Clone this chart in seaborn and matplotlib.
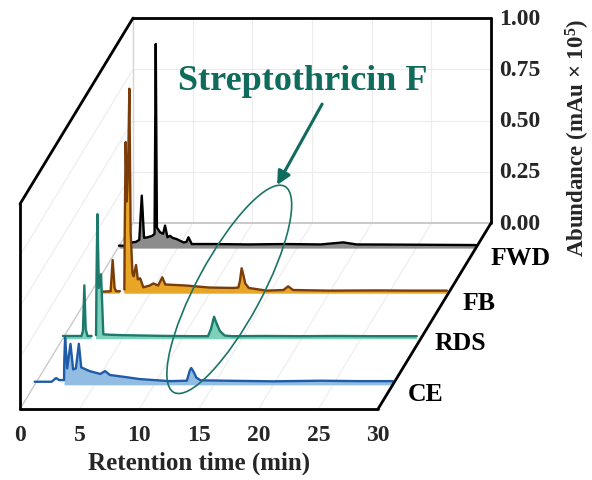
import numpy as np
import pandas as pd
import matplotlib
matplotlib.use("Agg")
import matplotlib.pyplot as plt
import matplotlib.transforms as mtransforms
from matplotlib.patches import Ellipse, ConnectionPatch
import seaborn as sns

# ---------------- data ----------------
samples = ["CE", "RDS", "FB", "FWD"]
depths = [0.13, 0.375, 0.62, 0.865]          # position of each trace along the depth axis
line_colors = ["#1f5ca8", "#1b7a6b", "#7a3d0a", "#000000"]
fill_colors = ["#93bce3", "#7fd0bb", "#e7a626", "#8c8c8c"]
fill_from = [2.46, 0.0, 0.0, 0.0]

ce_time = [0.0, 1.42, 1.79, 2.06, 2.35, 2.46, 2.48, 2.55, 2.72, 3.0, 3.22, 3.45, 3.7, 3.9,
           4.6, 5.5, 5.9, 6.3, 7.6, 8.8, 11.3, 12.75, 13.0, 13.12, 13.3, 13.55, 13.9,
           16.0, 20.0, 24.0, 27.0, 30.0]
ce_abund = [0.015, 0.015, 0.033, 0.023, 0.023, 0.023, 0.12, 0.23, 0.08, 0.20, 0.075, 0.08, 0.20, 0.085,
            0.067, 0.053, 0.067, 0.048, 0.038, 0.028, 0.018, 0.02, 0.07, 0.082, 0.065, 0.035, 0.022,
            0.02, 0.017, 0.02, 0.018, 0.018]

rds_time = [0.05, 1.6, 1.72, 1.84, 1.95, 2.1, 2.45, np.nan, 2.82, 2.86, 2.93, 3.06, 3.24, 3.43,
            4.0, 5.0, 7.0, 9.0, 11.0, 12.2, 12.45, 12.71, 12.9, 13.2, 13.6, 14.2,
            17.0, 20.0, 23.0, 26.0, 29.7]
rds_abund = [0.016, 0.016, 0.04, 0.263, 0.05, 0.016, 0.016, np.nan, 0.02, 0.30, 0.61, 0.25, 0.317, 0.024,
             0.022, 0.02, 0.018, 0.016, 0.015, 0.015, 0.05, 0.11, 0.08, 0.04, 0.018, 0.015,
             0.016, 0.015, 0.016, 0.015, 0.015]

fb_time = [1.08, 1.72, 1.89, 2.05, 2.17, 2.5, np.nan, 2.87, 2.9, 2.98, 3.08, 3.18, 3.29, 3.4,
           3.55, 3.65, 3.85, 4.0, 4.2, 4.46, 5.0, 5.3, 5.7, 6.05, 6.3, 8.0, 10.0, 12.0,
           12.42, 12.55, 12.7, 12.85, 13.0, 13.3, 14.8, 16.2, 16.6, 17.0, 20.0, 24.0, 27.0, 29.9]
fb_abund = [0.01, 0.012, 0.164, 0.03, 0.012, 0.012, np.nan, 0.02, 0.30, 0.74, 0.45, 0.60, 1.0, 0.30,
            0.10, 0.085, 0.14, 0.07, 0.075, 0.031, 0.04, 0.05, 0.04, 0.08, 0.045, 0.04, 0.03, 0.028,
            0.03, 0.06, 0.124, 0.09, 0.05, 0.028, 0.015, 0.018, 0.036, 0.018, 0.015, 0.016, 0.015, 0.015]

fwd_time = [0.1, 1.03, 1.17, 1.5, 1.8, 2.01, 2.2, 2.5, 2.9, 3.08, 3.18, 3.28, 3.55, 3.8, 3.96,
            4.16, 4.38, 4.6, 4.94, 5.5, 5.75, 5.92, 6.2, 8.0, 11.0, 14.0, 17.0, 18.9, 20.0,
            24.0, 27.0, 30.0]
fwd_abund = [0.012, 0.012, 0.028, 0.03, 0.04, 0.256, 0.05, 0.053, 0.06, 0.07, 0.996, 0.10, 0.077, 0.07, 0.11,
             0.053, 0.06, 0.05, 0.044, 0.028, 0.03, 0.053, 0.02, 0.02, 0.018, 0.02, 0.018, 0.028, 0.018,
             0.017, 0.016, 0.015]

x_ticks = [0, 5, 10, 15, 20, 25, 30]
y_ticks = [0.0, 0.25, 0.5, 0.75, 1.0]
y_tick_labels = ["0.00", "0.25", "0.50", "0.75", "1.00"]
label_shift = [-6.0, -2.0, -6.0, -7.0]     # vertical nudge of the sample names (points)
annot_text = "Streptothricin F"

# ---------------- style ----------------
sns.set_theme(style="white")
plt.rcParams["font.family"] = ["Liberation Serif", "DejaVu Serif"]
plt.rcParams["font.weight"] = "bold"
plt.rcParams["mathtext.fontset"] = "custom"
plt.rcParams["mathtext.rm"] = "Liberation Serif:bold"
plt.rcParams["mathtext.default"] = "rm"

TEAL = "#0f6b5c"
DEPTH_X, DEPTH_Y = 81.4, 133.9   # full depth offset, points

fig = plt.figure(figsize=(5.92, 4.81), dpi=100)
ax = fig.add_axes([20 / 592, 71 / 481, 358 / 592, 205 / 481])
ax.set_facecolor("none")


def plane(d, dx=0.0, dy=0.0):
    return ax.transData + mtransforms.ScaledTranslation(
        (DEPTH_X * d + dx) / 72, (DEPTH_Y * d + dy) / 72, fig.dpi_scale_trans)


def depth_line(xy, d0, d1, **kw):
    cp = ConnectionPatch(xyA=xy, coordsA=plane(d0), xyB=xy, coordsB=plane(d1),
                         arrowstyle="-", **kw)
    ax.add_artist(cp)
    return cp


grid_kw = dict(color="#ececec", lw=0.8, zorder=0.5)
# back-plane grid
for v in y_ticks[1:-1]:
    ax.plot([x_ticks[0], x_ticks[-1]], [v, v], transform=plane(1), clip_on=False, **grid_kw)
for t in x_ticks[1:-1]:
    ax.plot([t, t], [0, 1], transform=plane(1), clip_on=False, **grid_kw)
# floor and left-wall grid
for t in x_ticks[1:-1]:
    depth_line((t, 0), 0, 1, color="#ececec", lw=0.8, zorder=0.5)
for v in y_ticks[1:-1]:
    depth_line((0, v), 0, 1, color="#ececec", lw=0.8, zorder=0.5)
# faint inner edges
ax.plot([0, 30], [0, 0], transform=plane(1), clip_on=False, color="#c9c9c9", lw=1.4, zorder=0.6)
ax.plot([0, 0], [0, 1], transform=plane(1), clip_on=False, color="#d5d5d5", lw=1.0, zorder=0.6)
depth_line((0, 0), 0, 1, color="#c9c9c9", lw=1.0, zorder=0.6)

# ---------------- traces ----------------
traces = {"CE": (ce_time, ce_abund), "RDS": (rds_time, rds_abund),
          "FB": (fb_time, fb_abund), "FWD": (fwd_time, fwd_abund)}

order = list(range(len(samples)))[::-1]   # draw back to front
for k, i in enumerate(order):
    name = samples[i]
    t, h = traces[name]
    df = pd.DataFrame({"time": t, "abundance": h})
    df["segment"] = df["time"].isna().cumsum()
    tr = plane(depths[i])
    z = 2 + k
    tt = df["time"].to_numpy()
    hh = df["abundance"].to_numpy()
    mask = np.where(np.isnan(tt), False, tt >= fill_from[i])
    ax.fill_between(tt, 0, hh, where=mask, transform=tr, color=fill_colors[i],
                    lw=0, clip_on=False, zorder=z)
    clean = df.dropna()
    sns.lineplot(data=clean, x="time", y="abundance", units="segment", estimator=None,
                 sort=False, ax=ax, color=line_colors[i], lw=1.7, transform=tr,
                 clip_on=False, zorder=z + 0.1, legend=False)
    ax.text(x_ticks[-1], 0, name, transform=plane(depths[i], 10.5, label_shift[i]),
            ha="left", va="center", fontsize=18.5, fontweight="bold", color="black")

# ---------------- frame ----------------
frame_kw = dict(color="black", lw=2.0, zorder=20)
ax.plot([0, 30], [1, 1], transform=plane(1), clip_on=False, solid_capstyle="round", **frame_kw)
ax.plot([30, 30], [0, 1], transform=plane(1), clip_on=False, solid_capstyle="round", **frame_kw)
depth_line((0, 1), 0, 1, capstyle="round", **frame_kw)
depth_line((30, 0), 0, 1, capstyle="round", **frame_kw)

for s in ["top", "right"]:
    ax.spines[s].set_visible(False)
for s in ["bottom", "left"]:
    ax.spines[s].set_visible(True)
    ax.spines[s].set_color("black")
    ax.spines[s].set_linewidth(2.0)
    ax.spines[s].set_capstyle("round")
    ax.spines[s].set_zorder(20)

ax.set_xlim(x_ticks[0], x_ticks[-1])
ax.set_ylim(0, 1)
ax.set_xticks(x_ticks)
ax.set_xticklabels([str(v) for v in x_ticks])
ax.set_yticks([])
ax.tick_params(axis="x", length=0, pad=10.5, labelsize=17)
for lab in ax.get_xticklabels():
    lab.set_fontweight("bold")
ax.set_xlabel("Retention time (min)", fontsize=18, fontweight="bold", labelpad=4)
ax.set_ylabel("")

# back-plane abundance axis
for v, lab in zip(y_ticks, y_tick_labels):
    ax.text(x_ticks[-1], v, lab, transform=plane(1, 6.0), ha="left", va="center",
            fontsize=17, fontweight="bold")
ax.text(x_ticks[-1], 0.42, "Abundance (mAu × 10$^{5}$)", transform=plane(1, 62.5),
        rotation=90, ha="center", va="center", fontsize=16.5, fontweight="bold")

# ---------------- annotation ----------------
ell_tr = (mtransforms.Affine2D().scale(1 / 72) + fig.dpi_scale_trans
          + mtransforms.ScaledTranslation(12.8, 0.13, plane(0.5)))
ell = Ellipse((0, 0), width=168.5, height=46.8, angle=61.7, transform=ell_tr,
              fill=False, edgecolor="#1b7565", lw=1.2, zorder=30, clip_on=False)
ax.add_artist(ell)
ax.annotate("", xy=(16.81, 0.639), xycoords=plane(0.5), xytext=(20.58, 1.034),
            textcoords=plane(0.5),
            arrowprops=dict(arrowstyle="-|>", color=TEAL, lw=2.2, mutation_scale=20,
                            shrinkA=0, shrinkB=0), zorder=30, annotation_clip=False)
ax.text(18.99, 1.107, annot_text, transform=plane(0.5), ha="center", va="baseline",
        fontsize=26, fontweight="bold", color=TEAL, zorder=30)

fig.savefig("out.png", dpi=100)
